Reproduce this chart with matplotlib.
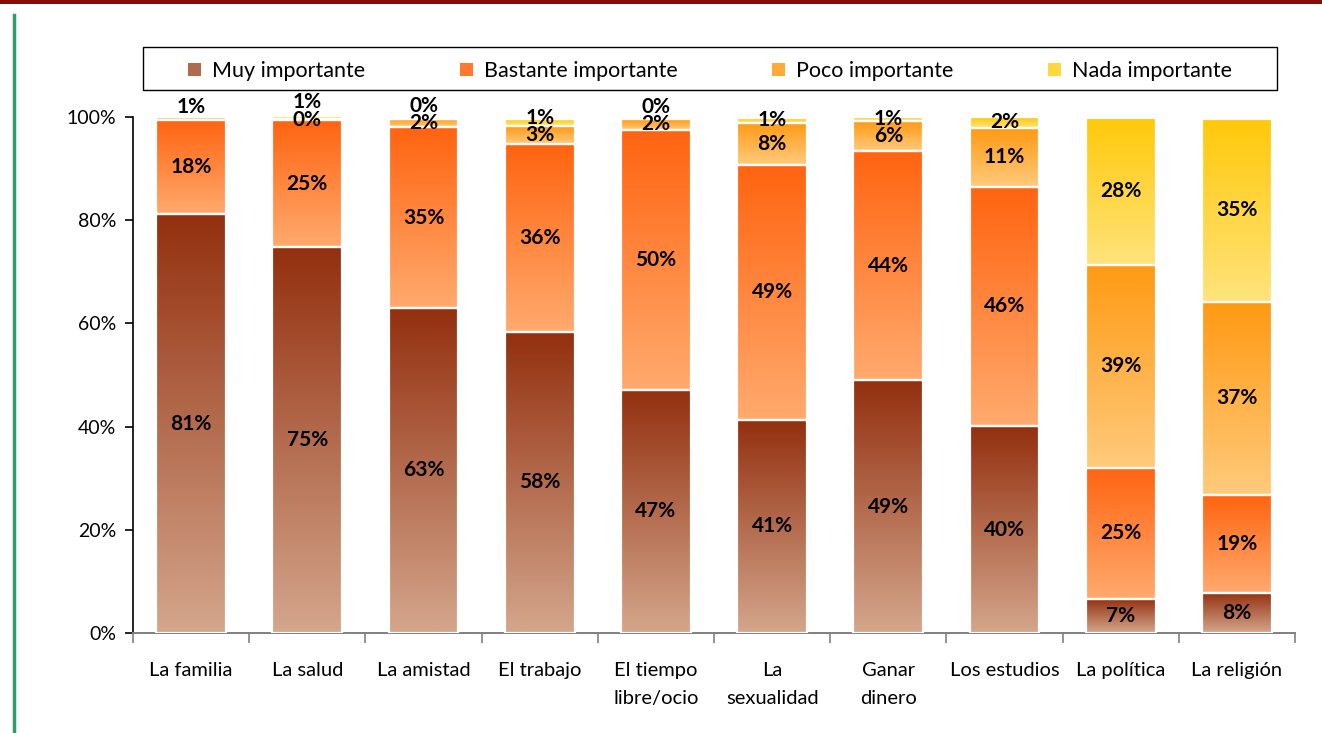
import numpy as np
import matplotlib
matplotlib.use("Agg")
import matplotlib.pyplot as plt
from matplotlib.colors import to_rgb
from matplotlib.patches import Patch, Rectangle
from matplotlib.lines import Line2D

plt.rcParams['font.family'] = ['Lato', 'DejaVu Sans']

# Data (percent)
categories = ["La familia", "La salud", "La amistad", "El trabajo", "El tiempo\nlibre/ocio",
              "La\nsexualidad", "Ganar\ndinero", "Los estudios", "La política", "La religión"]
series_names = ["Muy importante", "Bastante importante", "Poco importante", "Nada importante"]
muy = [81.2, 74.8, 63.0, 58.4, 47.1, 41.3, 49.0, 40.1, 6.6, 7.8]
bastante = [18.2, 24.6, 35.0, 36.4, 50.4, 49.4, 44.4, 46.4, 25.4, 19.0]
poco = [0.6, 0.2, 1.6, 3.4, 2.1, 8.2, 5.8, 11.4, 39.4, 37.4]
nada = [np.nan, 0.6, 0.2, 1.4, 0.2, 0.9, 0.8, 2.1, 28.4, 35.4]

# gradient colours, top -> bottom
grad_colors = [("#93300f", "#d4a68c"),
               ("#ff6410", "#ffaa6e"),
               ("#ff9a14", "#ffca7c"),
               ("#ffc90a", "#ffe37c")]
legend_colors = ["#b06a4e", "#ff7a30", "#ffaa3a", "#ffd840"]

all_series = [muy, bastante, poco, nada]

fig = plt.figure(figsize=(13.22, 7.33), dpi=100)
ax = fig.add_axes([0.1006, 0.1364, 0.879, 0.704])

x = np.arange(len(categories))
width = 0.6
bottom = np.zeros(len(categories))
label_pos = [[] for _ in categories]

for j, (vals, (ctop, cbot)) in enumerate(zip(all_series, grad_colors)):
    vals = np.array(vals, dtype=float)
    h = np.nan_to_num(vals)
    bars = ax.bar(x, h, bottom=bottom, width=width, facecolor='none',
                  edgecolor='white', linewidth=1.6, zorder=3)
    t = np.linspace(0, 1, 100)[:, None]
    grad = (1 - t) * np.array(to_rgb(ctop)) + t * np.array(to_rgb(cbot))
    grad = grad[:, None, :]
    for b, v in zip(bars, h):
        if v <= 0:
            continue
        x0, y0 = b.get_x(), b.get_y()
        ax.imshow(grad, extent=[x0, x0 + b.get_width(), y0, y0 + b.get_height()],
                  aspect='auto', zorder=2, interpolation='bilinear')
    for i, v in enumerate(vals):
        if np.isnan(v):
            continue
        yc = bottom[i] + v / 2
        if label_pos[i] and yc < label_pos[i][-1] + 3.4:
            yc = label_pos[i][-1] + 3.4
        # very thin topmost segment: label sits just above the bar
        topmost = j == len(all_series) - 1 or np.isnan(all_series[j + 1][i])
        if topmost and v < 0.7:
            yc = max(yc, 102.0)
        label_pos[i].append(yc)
        ax.text(x[i], yc, f"{v:.0f}%", ha='center', va='center',
                fontsize=15, fontweight='bold', color='black', zorder=5)
    bottom += h

ax.set_xlim(-0.5, len(categories) - 0.5)
ax.set_ylim(0, 100)
ax.set_yticks(np.arange(0, 101, 20))
ax.set_yticklabels([f"{v}%" for v in range(0, 101, 20)], fontsize=14)
ax.set_xticks(x)
ax.set_xticklabels(categories, fontsize=14.5, linespacing=1.75)
ax.set_xticks(np.arange(-0.5, len(categories), 1), minor=True)
ax.tick_params(axis='x', which='major', length=0, pad=21)
ax.tick_params(axis='x', which='minor', length=7, color='#808080', width=1.2)
ax.tick_params(axis='y', length=6, width=1.2, pad=6)
for s in ['top', 'right']:
    ax.spines[s].set_visible(False)
ax.spines['bottom'].set_color('#808080')
ax.spines['bottom'].set_linewidth(1.4)
ax.spines['left'].set_linewidth(1.2)

# legend: frame drawn separately, items centred inside it
fig.add_artist(Rectangle((143 / 1322, 1 - 90 / 733), (1277 - 143) / 1322, 43 / 733,
                         transform=fig.transFigure, facecolor='white',
                         edgecolor='black', linewidth=1.0, zorder=4))
handles = [Patch(facecolor=c, edgecolor='none') for c in legend_colors]
leg = fig.legend(handles, series_names, loc='center', ncol=4,
                 bbox_to_anchor=(710 / 1322, 1 - 71 / 733), fontsize=15.5,
                 frameon=False, handlelength=0.6, handleheight=0.6,
                 handletextpad=0.5, columnspacing=4.4)
leg.set_zorder(5)

# decorative page lines
fig.add_artist(Rectangle((0, 0.994), 1, 0.006, transform=fig.transFigure,
                         facecolor='#8b0a0a', edgecolor='none'))
fig.add_artist(Line2D([0.0105, 0.0105], [0, 0.98], transform=fig.transFigure,
                      color='#2e9e6a', linewidth=2.5))

fig.savefig("out.png", dpi=100)
